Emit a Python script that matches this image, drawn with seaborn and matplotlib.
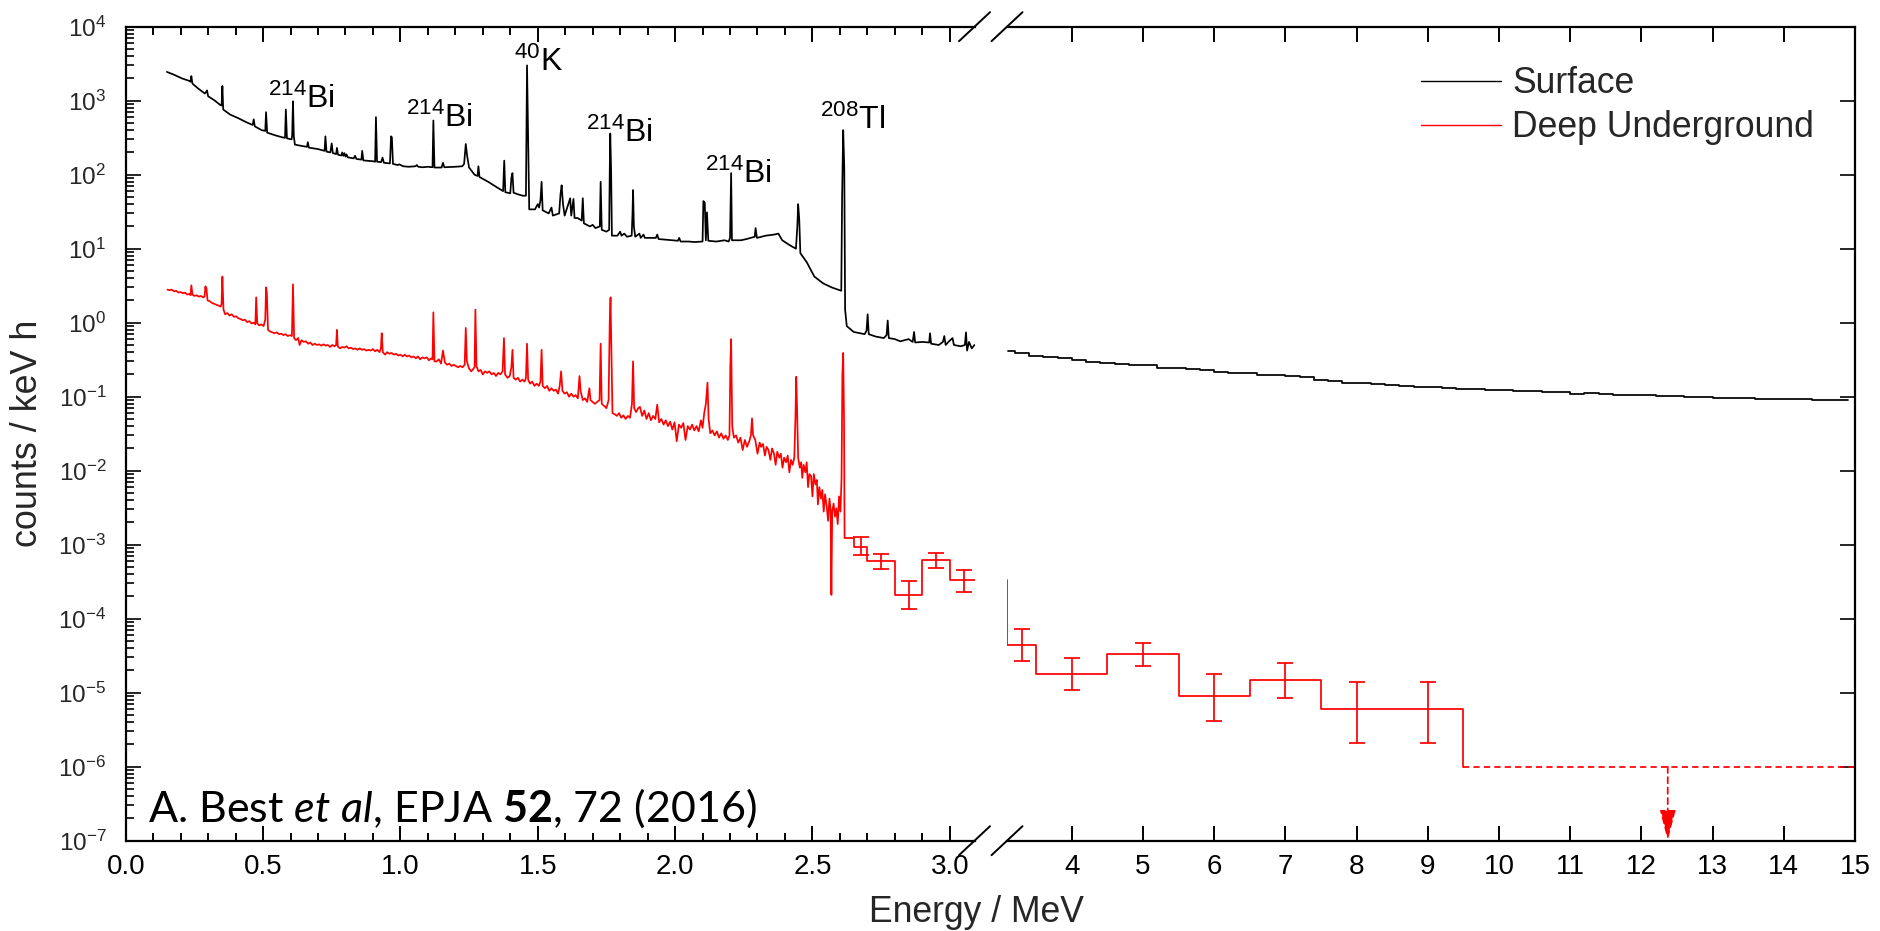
import matplotlib
matplotlib.use("Agg")
import matplotlib.pyplot as plt
import seaborn as sns
from matplotlib.ticker import FixedLocator, FixedFormatter, MultipleLocator, LogLocator, NullLocator, NullFormatter
from matplotlib.lines import Line2D

# ---------------- data ----------------
surface_low = [
    (0.150, 2450), (0.175, 2250), (0.205, 2000), (0.232, 1850),
    (0.236, 1800), (0.239, 2150), (0.243, 1700), (0.265, 1450),
    (0.288, 1250), (0.292, 1300), (0.296, 1380), (0.300, 1150), (0.325, 1000),
    (0.345, 870), (0.349, 860), (0.352, 1580), (0.355, 760), (0.380, 650),
    (0.410, 580), (0.440, 510), (0.462, 470), (0.466, 560), (0.470, 450),
    (0.495, 400), (0.508, 390), (0.511, 700), (0.515, 370), (0.545, 340),
    (0.570, 320), (0.580, 315), (0.583, 760), (0.587, 310),
    (0.604, 300), (0.606, 340), (0.609, 980), (0.612, 330), (0.616, 255),
    (0.640, 245), (0.660, 238), (0.663, 275), (0.667, 232), (0.700, 222),
    (0.724, 210), (0.727, 330), (0.731, 205), (0.745, 200), (0.750, 265), (0.754, 196),
    (0.766, 190), (0.769, 230), (0.773, 186), (0.785, 182), (0.788, 200), (0.792, 180),
    (0.796, 196), (0.800, 176), (0.804, 188), (0.808, 172), (0.830, 166), (0.835, 180),
    (0.840, 163), (0.858, 160), (0.861, 210), (0.865, 156), (0.900, 152),
    (0.908, 150), (0.911, 600), (0.915, 150), (0.930, 148), (0.935, 170), (0.940, 145),
    (0.962, 142), (0.966, 330), (0.969, 320), (0.973, 140), (0.990, 135), (0.996, 138),
    (1.010, 130), (1.030, 128), (1.055, 130), (1.060, 135), (1.065, 128),
    (1.080, 126), (1.100, 128), (1.117, 126), (1.120, 540), (1.124, 125),
    (1.150, 125), (1.155, 145), (1.160, 126), (1.200, 128), (1.225, 130),
    (1.232, 140), (1.238, 260), (1.243, 180), (1.250, 125),
    (1.270, 100), (1.281, 96), (1.284, 130), (1.288, 93), (1.320, 80), (1.350, 68),
    (1.374, 60), (1.378, 155), (1.382, 58), (1.400, 56), (1.404, 90), (1.408, 105), (1.412, 57),
    (1.430, 54), (1.445, 52), (1.457, 52), (1.461, 3000), (1.465, 300), (1.469, 34),
    (1.490, 34), (1.500, 40), (1.505, 36), (1.510, 45), (1.514, 80), (1.518, 33),
    (1.540, 30), (1.550, 36), (1.555, 28), (1.578, 30), (1.583, 55), (1.587, 72),
    (1.592, 40), (1.598, 28), (1.618, 48), (1.622, 28), (1.630, 47), (1.634, 26),
    (1.645, 26), (1.660, 24), (1.664, 48), (1.668, 22), (1.690, 20), (1.700, 21), (1.710, 19),
    (1.726, 20), (1.729, 80), (1.733, 18), (1.750, 17),
    (1.760, 18), (1.762, 100), (1.764, 360), (1.767, 120), (1.770, 15),
    (1.790, 15), (1.800, 17), (1.805, 15), (1.815, 16), (1.825, 14.5),
    (1.842, 15), (1.845, 30), (1.847, 62), (1.850, 20), (1.855, 14.5),
    (1.870, 16), (1.875, 14), (1.885, 15.5), (1.890, 14), (1.930, 14), (1.935, 15.5), (1.940, 13.5),
    (1.990, 13), (2.010, 12.8), (2.015, 14), (2.020, 12.5), (2.050, 12.5), (2.070, 12.3),
    (2.100, 12.5), (2.103, 44), (2.108, 42), (2.112, 13), (2.116, 31), (2.121, 12.8),
    (2.150, 12.5), (2.180, 13), (2.195, 12.5), (2.200, 14), (2.204, 105), (2.207, 13),
    (2.240, 13), (2.260, 13.5), (2.275, 14), (2.290, 14.5), (2.293, 19), (2.298, 14),
    (2.330, 15), (2.360, 15.5), (2.376, 16), (2.390, 13), (2.420, 11), (2.440, 10),
    (2.445, 20), (2.448, 40), (2.452, 25), (2.456, 8.7), (2.480, 6.5), (2.507, 4.2),
    (2.539, 3.4), (2.570, 3.0), (2.605, 2.7), (2.608, 50), (2.612, 400), (2.616, 120),
    (2.619, 1.5), (2.625, 0.9), (2.650, 0.75), (2.690, 0.7), (2.697, 0.78), (2.701, 1.3),
    (2.705, 0.7), (2.730, 0.65), (2.760, 0.62), (2.770, 0.68), (2.774, 1.07), (2.778, 0.62),
    (2.800, 0.6), (2.820, 0.56), (2.850, 0.6), (2.865, 0.55), (2.870, 0.75), (2.874, 0.54),
    (2.900, 0.55), (2.925, 0.54), (2.928, 0.72), (2.932, 0.52), (2.960, 0.5), (2.975, 0.55),
    (2.980, 0.66), (2.985, 0.5), (2.995, 0.55), (3.010, 0.62), (3.015, 0.5),
    (3.040, 0.48), (3.055, 0.5), (3.059, 0.74), (3.063, 0.42), (3.070, 0.55), (3.080, 0.45), (3.090, 0.5),
]

surface_high_E = [3.10, 3.30, 3.50, 3.70, 3.90, 4.10, 4.30, 4.50, 4.70, 4.90, 5.10, 5.30,
                  5.50, 5.70, 5.90, 6.10, 6.30, 6.50, 6.70, 6.90, 7.10, 7.30, 7.50, 7.70,
                  7.90, 8.10, 8.30, 8.50, 8.70, 8.90, 9.10, 9.30, 9.50, 9.70, 9.90, 10.10,
                  10.30, 10.50, 10.70, 10.90, 11.10, 11.30, 11.50, 11.70, 11.90, 12.10, 12.30,
                  12.50, 12.70, 12.90, 13.10, 13.30, 13.50, 13.70, 13.90, 14.10, 14.30, 14.50,
                  14.70, 14.90]
surface_high_cnt = [0.42, 0.39, 0.36, 0.34, 0.33, 0.31, 0.29, 0.285, 0.28, 0.27, 0.265, 0.245,
                    0.245, 0.238, 0.232, 0.215, 0.21, 0.21, 0.198, 0.195, 0.19, 0.186, 0.17, 0.162,
                    0.155, 0.152, 0.148, 0.145, 0.141, 0.137, 0.134, 0.131, 0.128, 0.126, 0.124, 0.123,
                    0.118, 0.12, 0.117, 0.115, 0.11, 0.112, 0.108, 0.106, 0.105, 0.104, 0.101,
                    0.102, 0.099, 0.098, 0.097, 0.095, 0.096, 0.094, 0.093, 0.092, 0.093, 0.090,
                    0.091, 0.090]

deep_low = [
    (0.152, 2.8), (0.160, 2.75), (0.168, 2.8), (0.176, 2.65), (0.184, 2.7), (0.192, 2.55),
    (0.200, 2.6), (0.208, 2.5), (0.216, 2.55), (0.224, 2.4), (0.232, 2.45),
    (0.236, 2.35), (0.239, 3.2), (0.243, 2.4), (0.250, 2.3), (0.258, 2.35), (0.266, 2.25),
    (0.274, 2.3), (0.282, 2.2), (0.287, 2.25), (0.290, 3.1), (0.294, 2.9), (0.298, 2.0),
    (0.306, 1.95), (0.314, 1.85), (0.322, 1.8), (0.330, 1.75), (0.338, 1.7), (0.346, 1.65),
    (0.349, 1.8), (0.352, 4.2), (0.356, 1.5), (0.362, 1.3), (0.370, 1.35), (0.378, 1.25),
    (0.386, 1.3), (0.394, 1.2), (0.402, 1.22), (0.410, 1.15), (0.418, 1.12), (0.426, 1.08),
    (0.434, 1.1), (0.442, 1.02), (0.450, 1.05), (0.458, 0.98), (0.466, 1.0),
    (0.472, 0.95), (0.475, 2.2), (0.479, 0.98), (0.486, 0.92), (0.494, 0.95), (0.502, 0.9),
    (0.508, 1.1), (0.511, 3.0), (0.514, 2.5), (0.518, 0.8), (0.526, 0.76), (0.534, 0.74),
    (0.542, 0.72), (0.550, 0.74), (0.558, 0.70), (0.566, 0.71), (0.574, 0.68), (0.582, 0.70),
    (0.590, 0.66), (0.598, 0.68), (0.605, 0.66), (0.609, 3.3), (0.613, 0.62), (0.620, 0.58),
    (0.628, 0.62), (0.633, 0.50), (0.640, 0.58), (0.648, 0.55), (0.656, 0.56), (0.664, 0.52),
    (0.672, 0.54), (0.680, 0.50), (0.688, 0.52), (0.696, 0.50), (0.704, 0.51), (0.712, 0.49),
    (0.720, 0.51), (0.728, 0.49), (0.736, 0.50), (0.744, 0.47), (0.752, 0.50), (0.760, 0.48),
    (0.766, 0.50), (0.769, 0.80), (0.772, 0.48), (0.780, 0.45), (0.788, 0.47), (0.796, 0.46),
    (0.804, 0.48), (0.812, 0.45), (0.820, 0.46), (0.828, 0.44), (0.836, 0.45), (0.844, 0.43),
    (0.852, 0.45), (0.860, 0.43), (0.868, 0.44), (0.876, 0.42), (0.884, 0.43), (0.892, 0.42),
    (0.900, 0.44), (0.908, 0.41), (0.916, 0.43), (0.924, 0.40), (0.929, 0.45), (0.932, 0.72),
    (0.936, 0.40), (0.944, 0.37), (0.952, 0.40), (0.960, 0.38), (0.968, 0.39), (0.976, 0.37),
    (0.984, 0.38), (0.992, 0.36), (1.000, 0.37), (1.008, 0.35), (1.016, 0.37), (1.024, 0.35),
    (1.032, 0.36), (1.040, 0.34), (1.048, 0.35), (1.056, 0.33), (1.064, 0.35), (1.072, 0.32),
    (1.080, 0.34), (1.088, 0.33), (1.096, 0.34), (1.104, 0.31), (1.112, 0.33),
    (1.117, 0.32), (1.120, 1.38), (1.124, 0.30), (1.132, 0.30), (1.140, 0.32), (1.148, 0.28),
    (1.155, 0.42), (1.162, 0.29), (1.170, 0.27), (1.178, 0.28), (1.186, 0.26), (1.194, 0.27),
    (1.202, 0.26), (1.210, 0.25), (1.218, 0.26), (1.226, 0.25),
    (1.234, 0.27), (1.238, 0.85), (1.242, 0.30), (1.250, 0.24), (1.258, 0.22), (1.266, 0.24),
    (1.270, 0.25), (1.273, 1.5), (1.277, 0.26), (1.284, 0.22), (1.292, 0.23), (1.300, 0.20),
    (1.308, 0.22), (1.316, 0.21), (1.324, 0.22), (1.332, 0.20), (1.340, 0.21), (1.348, 0.19),
    (1.356, 0.21), (1.364, 0.20), (1.372, 0.22), (1.377, 0.62), (1.381, 0.20), (1.390, 0.18),
    (1.398, 0.19), (1.404, 0.25), (1.408, 0.43), (1.412, 0.18), (1.420, 0.17), (1.428, 0.18),
    (1.436, 0.16), (1.444, 0.17), (1.452, 0.16), (1.457, 0.18), (1.461, 0.52), (1.465, 0.17),
    (1.472, 0.15), (1.480, 0.16), (1.488, 0.14), (1.496, 0.15), (1.504, 0.14),
    (1.510, 0.16), (1.514, 0.43), (1.518, 0.14), (1.526, 0.13), (1.534, 0.14), (1.542, 0.12),
    (1.550, 0.13), (1.558, 0.12), (1.566, 0.125), (1.574, 0.11), (1.580, 0.14), (1.585, 0.22),
    (1.590, 0.12), (1.598, 0.11), (1.606, 0.115), (1.614, 0.10), (1.622, 0.11), (1.630, 0.10),
    (1.638, 0.105), (1.646, 0.095), (1.652, 0.19), (1.656, 0.12), (1.664, 0.09), (1.672, 0.095),
    (1.680, 0.085), (1.688, 0.13), (1.692, 0.09), (1.700, 0.085), (1.708, 0.08), (1.716, 0.085),
    (1.725, 0.09), (1.729, 0.52), (1.733, 0.08), (1.742, 0.075), (1.750, 0.07), (1.758, 0.09),
    (1.762, 1.0), (1.765, 2.2), (1.768, 0.5), (1.772, 0.06), (1.780, 0.058), (1.788, 0.055),
    (1.796, 0.06), (1.804, 0.052), (1.812, 0.056), (1.820, 0.05), (1.828, 0.055), (1.836, 0.052),
    (1.843, 0.08), (1.847, 0.30), (1.851, 0.07), (1.858, 0.062), (1.866, 0.07), (1.872, 0.073),
    (1.880, 0.055), (1.888, 0.065), (1.896, 0.05), (1.904, 0.06), (1.912, 0.048), (1.920, 0.055),
    (1.928, 0.05), (1.935, 0.078), (1.942, 0.045), (1.950, 0.05), (1.958, 0.042), (1.966, 0.048),
    (1.974, 0.04), (1.982, 0.046), (1.990, 0.036), (1.998, 0.045), (2.006, 0.025), (2.014, 0.042),
    (2.022, 0.038), (2.030, 0.044), (2.038, 0.026), (2.046, 0.04), (2.054, 0.036), (2.062, 0.042),
    (2.070, 0.035), (2.078, 0.04), (2.086, 0.034), (2.094, 0.048), (2.100, 0.038), (2.106, 0.06),
    (2.112, 0.08), (2.118, 0.155), (2.122, 0.05), (2.128, 0.032), (2.136, 0.035), (2.144, 0.03),
    (2.152, 0.034), (2.160, 0.028), (2.168, 0.032), (2.176, 0.027), (2.184, 0.03), (2.192, 0.026),
    (2.198, 0.03), (2.201, 0.25), (2.204, 0.60), (2.208, 0.04), (2.214, 0.028), (2.222, 0.03),
    (2.230, 0.024), (2.238, 0.028), (2.246, 0.019), (2.254, 0.026), (2.262, 0.021), (2.270, 0.025),
    (2.276, 0.03), (2.280, 0.051), (2.284, 0.03), (2.292, 0.026), (2.300, 0.017), (2.308, 0.024),
    (2.313, 0.021), (2.320, 0.023), (2.327, 0.016), (2.333, 0.021), (2.340, 0.019), (2.347, 0.014),
    (2.353, 0.02), (2.360, 0.017), (2.366, 0.012), (2.372, 0.018), (2.379, 0.015), (2.385, 0.017),
    (2.391, 0.011), (2.397, 0.015), (2.404, 0.013), (2.410, 0.016), (2.416, 0.0095), (2.422, 0.014),
    (2.428, 0.012), (2.434, 0.015),
    (2.438, 0.05), (2.441, 0.186), (2.444, 0.07), (2.448, 0.015), (2.454, 0.011), (2.459, 0.013),
    (2.463, 0.008), (2.468, 0.012), (2.474, 0.0095), (2.479, 0.013), (2.484, 0.006), (2.489, 0.009),
    (2.495, 0.0085), (2.500, 0.0045), (2.505, 0.009), (2.511, 0.0065), (2.516, 0.0075), (2.520, 0.0035),
    (2.525, 0.006), (2.531, 0.0042), (2.536, 0.0055), (2.541, 0.0028), (2.546, 0.0048), (2.552, 0.0033),
    (2.557, 0.0021), (2.562, 0.0042), (2.566, 0.003), (2.569, 0.00021), (2.572, 0.0028), (2.577, 0.0036),
    (2.582, 0.0024), (2.587, 0.0031), (2.592, 0.0019), (2.597, 0.0045), (2.602, 0.0028), (2.606, 0.008),
    (2.609, 0.2), (2.612, 0.39), (2.615, 0.05), (2.617, 0.00123),
]

deep_bins_low_edges = [2.617, 2.65, 2.70, 2.80, 2.90, 3.00, 3.09]
deep_bins_low_vals = [1.23e-3, 9.3e-4, 6.0e-4, 2.1e-4, 6.3e-4, 3.3e-4, 3.3e-4]
deep_err_low_E = [2.675, 2.75, 2.85, 2.95, 3.05]
deep_err_low_val = [9.3e-4, 6.0e-4, 2.1e-4, 6.3e-4, 3.3e-4]
deep_err_low_hi = [1.26e-3, 7.6e-4, 3.2e-4, 7.8e-4, 4.6e-4]
deep_err_low_lo = [7.2e-4, 4.7e-4, 1.35e-4, 4.9e-4, 2.3e-4]

deep_bins_high_edges = [3.09, 3.09, 3.5, 4.5, 5.5, 6.5, 7.5, 9.5]
deep_bins_high_vals = [3.3e-4, 4.4e-5, 1.8e-5, 3.3e-5, 9.1e-6, 1.5e-5, 6.0e-6, 1.0e-6]
deep_err_high_E = [3.3, 4.0, 5.0, 6.0, 7.0, 8.0, 9.0]
deep_err_high_val = [4.4e-5, 1.8e-5, 3.3e-5, 9.1e-6, 1.5e-5, 6.0e-6, 6.0e-6]
deep_err_high_hi = [7.3e-5, 2.9e-5, 4.7e-5, 1.8e-5, 2.5e-5, 1.4e-5, 1.4e-5]
deep_err_high_lo = [2.7e-5, 1.1e-5, 2.3e-5, 4.1e-6, 8.6e-6, 2.1e-6, 2.1e-6]

limit_E = [9.5, 15.0]
limit_val = [1.0e-6, 1.0e-6]
limit_arrow_E = 12.37

x_ticks_low = [0.0, 0.5, 1.0, 1.5, 2.0, 2.5, 3.0]
x_labels_low = ["0.0", "0.5", "1.0", "1.5", "2.0", "2.5", "3.0"]
x_ticks_high = [4, 5, 6, 7, 8, 9, 10, 11, 12, 13, 14, 15]
x_labels_high = ["4", "5", "6", "7", "8", "9", "10", "11", "12", "13", "14", "15"]
y_ticks = [1e-7, 1e-6, 1e-5, 1e-4, 1e-3, 1e-2, 1e-1, 1e0, 1e1, 1e2, 1e3, 1e4]
y_labels = [r"$10^{-7}$", r"$10^{-6}$", r"$10^{-5}$", r"$10^{-4}$", r"$10^{-3}$", r"$10^{-2}$",
            r"$10^{-1}$", r"$10^{0}$", r"$10^{1}$", r"$10^{2}$", r"$10^{3}$", r"$10^{4}$"]

peak_labels = [("214", "Bi", 0.518, 796), ("214", "Bi", 1.020, 442), ("40", "K", 1.414, 2518),
               ("214", "Bi", 1.676, 277), ("214", "Bi", 2.109, 77), ("208", "Tl", 2.528, 415)]

# ---------------- style ----------------
sns.set_theme(style="ticks")
plt.rcParams["font.family"] = ["Liberation Sans", "DejaVu Sans"]
plt.rcParams["mathtext.fontset"] = "custom"
plt.rcParams["mathtext.rm"] = "Liberation Sans"
plt.rcParams["mathtext.it"] = "Lato:italic"
plt.rcParams["mathtext.bf"] = "Lato:bold"
plt.rcParams["mathtext.default"] = "regular"
plt.rcParams["axes.unicode_minus"] = False

W, H = 1880, 931
fig = plt.figure(figsize=(W / 100, H / 100), dpi=100)
fig.patch.set_facecolor("white")

ax_top_px, ax_bot_px = 26.7, 840.7
ax_l = fig.add_axes([125.7 / W, (H - ax_bot_px) / H, 848.8 / W, (ax_bot_px - ax_top_px) / H])
ax_r = fig.add_axes([1007.0 / W, (H - ax_bot_px) / H, 848.0 / W, (ax_bot_px - ax_top_px) / H])

black = "#000000"
red = "#ff0000"
LW = 1.25

for ax in (ax_l, ax_r):
    ax.set_yscale("log")
    ax.set_facecolor("white")
    ax.set_ylim(1e-7, 1e4)

ax_l.set_xlim(0.0, 3.09)
ax_r.set_xlim(3.09, 15.0)

# surface
sns.lineplot(x=[p[0] for p in surface_low], y=[p[1] for p in surface_low], ax=ax_l,
             color=black, lw=LW, estimator=None, sort=False, legend=False)
sns.lineplot(x=surface_high_E, y=surface_high_cnt, ax=ax_r, color=black, lw=LW,
             estimator=None, sort=False, legend=False, drawstyle="steps-mid")

# deep underground
sns.lineplot(x=[p[0] for p in deep_low], y=[p[1] for p in deep_low], ax=ax_l,
             color=red, lw=LW, estimator=None, sort=False, legend=False)
sns.lineplot(x=deep_bins_low_edges, y=deep_bins_low_vals, ax=ax_l, color=red, lw=LW,
             estimator=None, sort=False, legend=False, drawstyle="steps-post")
sns.lineplot(x=deep_bins_high_edges, y=deep_bins_high_vals, ax=ax_r, color=red, lw=LW,
             estimator=None, sort=False, legend=False, drawstyle="steps-post")
ax_r.plot(limit_E, limit_val, color=red, lw=LW, linestyle=(0, (3.6, 2.4)))

for ax, E, v, hi, lo in ((ax_l, deep_err_low_E, deep_err_low_val, deep_err_low_hi, deep_err_low_lo),
                         (ax_r, deep_err_high_E, deep_err_high_val, deep_err_high_hi, deep_err_high_lo)):
    yerr = [[vv - l for vv, l in zip(v, lo)], [h - vv for vv, h in zip(v, hi)]]
    ax.errorbar(E, v, yerr=yerr, fmt="none", ecolor=red, elinewidth=LW, capsize=5.5, capthick=LW)

ax_r.annotate("", xy=(limit_arrow_E, 1e-7), xytext=(limit_arrow_E, limit_val[0]),
              arrowprops=dict(arrowstyle="-|>,head_length=19,head_width=4.9", mutation_scale=1,
                              color=red, lw=LW, linestyle=(0, (3.6, 2.4)), shrinkA=0, shrinkB=0),
              annotation_clip=False)

# ---------------- axes styling ----------------
for ax in (ax_l, ax_r):
    for s in ax.spines.values():
        s.set_linewidth(1.6)
        s.set_color("black")
ax_l.spines["right"].set_visible(False)
ax_r.spines["left"].set_visible(False)

ax_l.xaxis.set_major_locator(FixedLocator(x_ticks_low))
ax_l.xaxis.set_major_formatter(FixedFormatter(x_labels_low))
ax_l.xaxis.set_minor_locator(MultipleLocator(0.1))
ax_r.xaxis.set_major_locator(FixedLocator(x_ticks_high))
ax_r.xaxis.set_major_formatter(FixedFormatter(x_labels_high))
ax_r.xaxis.set_minor_locator(NullLocator())

ax_l.yaxis.set_major_locator(FixedLocator(y_ticks))
ax_l.yaxis.set_major_formatter(FixedFormatter(y_labels))
ax_l.yaxis.set_minor_locator(LogLocator(base=10, subs=(2, 3, 4, 5, 6, 7, 8, 9), numticks=30))
ax_l.yaxis.set_minor_formatter(NullFormatter())
ax_r.yaxis.set_major_locator(FixedLocator(y_ticks))
ax_r.yaxis.set_minor_locator(NullLocator())

for ax in (ax_l, ax_r):
    ax.tick_params(axis="x", which="both", direction="in", top=True, bottom=True,
                   labelsize=20, pad=9.5, width=1.4, colors="black")
    ax.tick_params(axis="x", which="major", length=10.8)
    ax.tick_params(axis="x", which="minor", length=5.8)
ax_l.tick_params(axis="y", which="both", direction="in", left=True, right=False,
                 labelsize=17.5, pad=14, width=1.4)
ax_l.tick_params(axis="y", which="major", length=10.8)
ax_l.tick_params(axis="y", which="minor", length=5.5)
ax_r.tick_params(axis="y", which="both", direction="in", left=False, right=True,
                 labelleft=False, labelright=False, length=10.8, width=1.4)

# axis break marks
pw_l = 848.8
ph = ax_bot_px - ax_top_px
dxl, dy = 15.5 / pw_l, 14.5 / ph
dxr = 15.5 / 848.0
for yy in (0, 1):
    ax_l.plot([1 - dxl, 1 + dxl], [yy - dy, yy + dy], transform=ax_l.transAxes,
              color="black", lw=1.4, clip_on=False)
    ax_r.plot([-dxr, dxr], [yy - dy, yy + dy], transform=ax_r.transAxes,
              color="black", lw=1.4, clip_on=False)

# ---------------- texts ----------------
for iso, el, xe, yv in peak_labels:
    ax_l.text(xe, yv, r"$^{" + iso + "}$" + el, fontsize=23, ha="left", va="baseline",
              color="black")

ax_l.text(0.081, 1.81e-7, r"A. Best $\mathit{et\ al}$, EPJA $\mathbf{52}$, 72 (2016)",
          fontfamily="Lato", fontsize=31, ha="left", va="baseline", color="black")

fig.text(976 / W, (H - 921.7) / H, "Energy / MeV", fontsize=25.6, ha="center", va="baseline")
fig.text(37 / W, (H - 433.7) / H, "counts / keV h", fontsize=25.8, rotation=90,
         rotation_mode="anchor", ha="center", va="baseline")

handles = [Line2D([0], [0], color=black, lw=1.0), Line2D([0], [0], color=red, lw=1.0)]
ax_r.legend(handles, ["Surface", "Deep Underground"], loc="upper left",
            bbox_to_anchor=(1421 / W, (H - 66) / H), bbox_transform=fig.transFigure,
            frameon=False, borderpad=0, borderaxespad=0, handlelength=2.25,
            handletextpad=0.31, labelspacing=0.26, prop={"family": "Liberation Sans", "size": 25.6})

fig.savefig("out.png", dpi=100, facecolor="white")
